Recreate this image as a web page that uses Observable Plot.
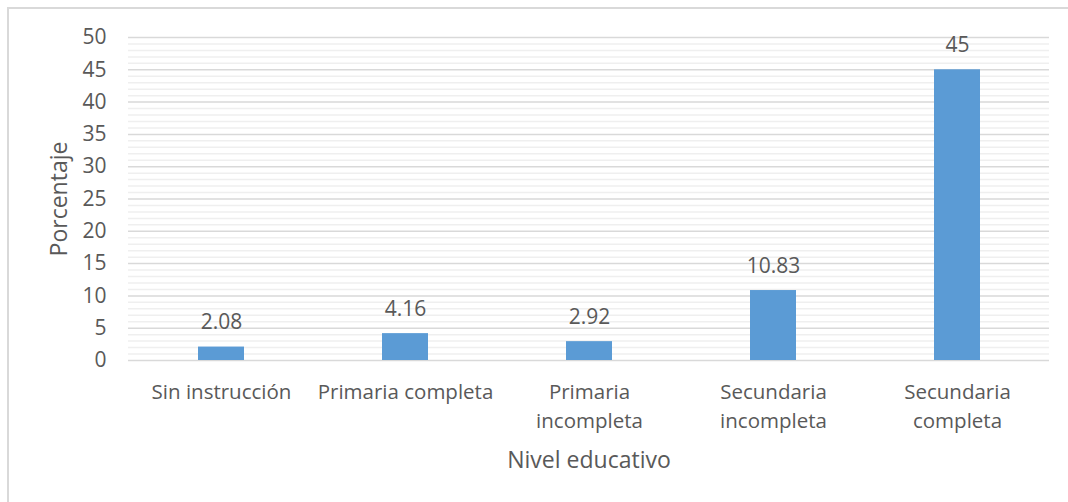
<!DOCTYPE html>
<html>
<head>
<meta charset="utf-8">
<script src="https://cdn.jsdelivr.net/npm/d3@7"></script>
<script src="https://cdn.jsdelivr.net/npm/@observablehq/plot@0.6"></script>
<style>
  html, body { margin: 0; padding: 0; background: #fff; }
  #wrap { position: relative; width: 1068px; height: 502px; overflow: hidden; }
  #border { position: absolute; left: 7px; top: 7px; width: 1100px; height: 600px;
            border-left: 2px solid #d9d9d9; border-top: 2px solid #d9d9d9; box-sizing: border-box; }
  #chart { position: absolute; left: 0; top: 0; }
</style>
</head>
<body>
<div id="wrap"><div id="border"></div><div id="chart"></div></div>
<script>
const categories = ["Sin instrucción", "Primaria completa", "Primaria incompleta", "Secundaria incompleta", "Secundaria completa"];
const tickLabels = ["Sin instrucción", "Primaria completa", "Primaria\nincompleta", "Secundaria\nincompleta", "Secundaria\ncompleta"];
const values = [2.08, 4.16, 2.92, 10.83, 45];
const valueLabels = ["2.08", "4.16", "2.92", "10.83", "45"];
const yMajorTicks = [0, 5, 10, 15, 20, 25, 30, 35, 40, 45, 50];
const yMinorTicks = d3.range(0, 51).filter(v => v % 5 !== 0);
const yTitle = "Porcentaje";
const xTitle = "Nivel educativo";

const data = categories.map((c, i) => ({cat: c, value: values[i], label: valueLabels[i]}));
const tickMap = new Map(categories.map((c, i) => [c, tickLabels[i]]));

const font = "'Open Sans', sans-serif";
const color = "#595959";

const chart = Plot.plot({
  width: 1068,
  height: 502,
  marginLeft: 128,
  marginRight: 19,
  marginTop: 37,
  marginBottom: 142,
  style: {fontFamily: font, fontSize: "20px", color: color, background: "transparent"},
  x: {domain: categories, padding: 0, label: null},
  y: {domain: [0, 50], label: null},
  marks: [
    Plot.gridY(yMinorTicks, {stroke: "#efefef", strokeOpacity: 1, strokeWidth: 1.5}),
    Plot.gridY(yMajorTicks, {stroke: "#d9d9d9", strokeOpacity: 1, strokeWidth: 1.5}),
    Plot.barY(data, {x: "cat", y: "value", fill: "#5b9bd5", insetLeft: 69, insetRight: 69}),
    Plot.text(data, {x: "cat", y: "value", text: "label", lineAnchor: "bottom", dy: -18, fill: color, fontSize: 21}),
    Plot.axisY(yMajorTicks, {tickSize: 0, tickPadding: 22, fontSize: 21, fill: color, label: null}),
    Plot.axisX({tickSize: 0, tickPadding: 17, fontSize: 20.5, fill: color, label: null, lineHeight: 1.45, tickFormat: d => tickMap.get(d)}),
    Plot.text([yTitle], {frameAnchor: "left", textAnchor: "middle", lineAnchor: "middle", rotate: -90, dx: -69, fontSize: 23, fill: color}),
    Plot.text([xTitle], {frameAnchor: "bottom", textAnchor: "middle", lineAnchor: "middle", dy: 100, fontSize: 23, fill: color})
  ]
});
document.getElementById("chart").appendChild(chart);
</script>
</body>
</html>
